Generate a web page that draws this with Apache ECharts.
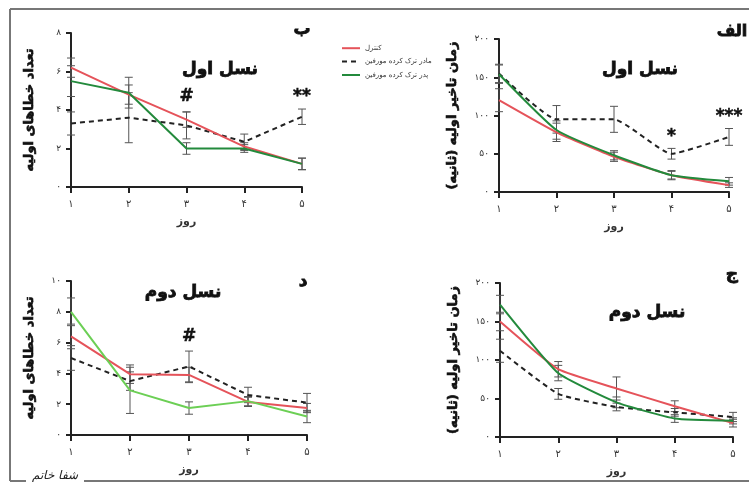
<!DOCTYPE html>
<html>
<head>
<meta charset="utf-8">
<script src="https://cdn.jsdelivr.net/npm/echarts@6/dist/echarts.min.js"></script>
<style>
  html, body { margin: 0; padding: 0; background: #fff; }
  #chart { width: 749px; height: 492px; }
</style>
</head>
<body>
<div id="chart"></div>
<script>
// روزها
const days = ['۱', '۲', '۳', '۴', '۵'];
const names = ['کنترل', 'مادر ترک کرده مورفین', 'پدر ترک کرده مورفین'];

// الف: زمان تاخیر اولیه - نسل اول
const latG1Ctrl = [120, 78, 46, 22, 9];
const latG1Mom = [155, 95, 95, 50, 72];
const latG1Dad = [154, 81, 48, 22, 14];
const latG1CtrlSe = [15, 12, 6, 5, 3];
const latG1MomSe = [12, 18, 17, 7, 11];
const latG1DadSe = [12, 12, 6, 6, 5];

// ب: تعداد خطاهای اولیه - نسل اول
const errG1Ctrl = [6.2, 4.8, 3.5, 2.1, 1.2];
const errG1Mom = [3.3, 3.6, 3.2, 2.35, 3.65];
const errG1Dad = [5.5, 4.9, 2.0, 2.0, 1.2];
const errG1CtrlSe = [0.5, 0.5, 0.4, 0.2, 0.3];
const errG1MomSe = [0.6, 1.3, 0.7, 0.4, 0.4];
const errG1DadSe = [0.8, 0.8, 0.3, 0.2, 0.3];

// ج: زمان تاخیر اولیه - نسل دوم
const latG2Ctrl = [150, 88, 63, 40, 18];
const latG2Mom = [112, 56, 39, 32, 26];
const latG2Dad = [172, 83, 45, 24, 21];
const latG2CtrlSe = [12, 10, 15, 7, 5];
const latG2MomSe = [15, 7, 5, 5, 6];
const latG2DadSe = [12, 10, 7, 5, 4];

// د: تعداد خطاهای اولیه - نسل دوم
const errG2Ctrl = [6.4, 3.95, 3.9, 2.15, 1.75];
const errG2Mom = [5.0, 3.5, 4.45, 2.6, 2.1];
const errG2Dad = [8.0, 2.9, 1.75, 2.2, 1.2];
const errG2CtrlSe = [0.8, 0.6, 0.5, 0.3, 0.3];
const errG2MomSe = [0.8, 0.6, 1.0, 0.5, 0.6];
const errG2DadSe = [0.9, 1.5, 0.4, 0.3, 0.4];

// ستاره‌ها و علامت‌ها
const marksLatG1 = [{ day: 3, y: 73, text: '*' }, { day: 4, y: 98, text: '***' }];
const marksErrG1 = [{ day: 2, y: 4.7, text: '#' }, { day: 4, y: 4.7, text: '**' }];
const marksErrG2 = [{ day: 2, y: 6.4, text: '#' }];

const FONT = 'DejaVu Sans';
const RED = '#e5535a';
const GREEN = '#238a3c';
const LIGHTGREEN = '#6ccf55';

const fa = v => String(v).replace(/\d/g, d => '۰۱۲۳۴۵۶۷۸۹'[d]);

const grids = [
  { left: 499, top: 39, width: 230, height: 153 },   // الف
  { left: 71, top: 33, width: 231, height: 154 },    // ب
  { left: 500, top: 283, width: 233, height: 154 },  // ج
  { left: 71, top: 281, width: 236, height: 154 }    // د
];

const axisLine = { lineStyle: { color: '#222', width: 2 } };

const xAxes = grids.map((g, i) => ({
  type: 'category', gridIndex: i, data: days, boundaryGap: false,
  axisLine: axisLine,
  axisTick: { show: true, length: 6, lineStyle: { color: '#222', width: 2 } },
  axisLabel: { fontFamily: FONT, fontSize: 10, color: '#333', margin: 12 },
  name: 'روز', nameLocation: 'middle', nameGap: 30,
  nameTextStyle: { fontFamily: FONT, fontSize: 11, fontWeight: 'bold', color: '#333' }
}));

function yAxis(i, max, interval, name) {
  return {
    type: 'value', gridIndex: i, min: 0, max: max, interval: interval,
    axisLine: Object.assign({ show: true }, axisLine),
    axisTick: { show: true, length: 5, lineStyle: { color: '#222', width: 2 } },
    splitLine: { show: false },
    axisLabel: { fontFamily: FONT, fontSize: 9, color: '#333', margin: 10, formatter: v => fa(v) },
    name: name, nameLocation: 'middle', nameRotate: 90, nameGap: max > 50 ? 40 : 35,
    nameTextStyle: {
      fontFamily: FONT, fontSize: 13, fontWeight: 'bold', color: '#111',
      textBorderColor: '#111', textBorderWidth: 0.6
    }
  };
}

const yAxes = [
  yAxis(0, 200, 50, 'زمان تاخیر اولیه (ثانیه)'),
  yAxis(1, 8, 2, 'تعداد خطاهای اولیه'),
  yAxis(2, 200, 50, 'زمان تاخیر اولیه (ثانیه)'),
  yAxis(3, 10, 2, 'تعداد خطاهای اولیه')
];

function renderErr(params, api) {
  const x = api.value(0);
  const p1 = api.coord([x, api.value(2)]);
  const p2 = api.coord([x, api.value(1)]);
  const w = 4;
  const st = { stroke: '#555', lineWidth: 1 };
  return {
    type: 'group',
    children: [
      { type: 'line', shape: { x1: p1[0], y1: p1[1], x2: p2[0], y2: p2[1] }, style: st },
      { type: 'line', shape: { x1: p1[0] - w, y1: p1[1], x2: p1[0] + w, y2: p1[1] }, style: st },
      { type: 'line', shape: { x1: p2[0] - w, y1: p2[1], x2: p2[0] + w, y2: p2[1] }, style: st }
    ]
  };
}

function errSeries(i, vals, se) {
  return {
    type: 'custom', xAxisIndex: i, yAxisIndex: i, renderItem: renderErr, z: 1,
    silent: true,
    data: vals.map((v, k) => [k, v - se[k], v + se[k]])
  };
}

function lineSeries(i, name, vals, color, dashed, smooth, marks) {
  const s = {
    type: 'line', name: name, xAxisIndex: i, yAxisIndex: i, data: vals,
    showSymbol: false, smooth: smooth, z: 3,
    lineStyle: { color: color, width: 2, type: dashed ? [5, 4] : 'solid' },
    itemStyle: { color: color }
  };
  if (marks) {
    s.markPoint = {
      symbol: 'circle', symbolSize: 0,
      label: {
        show: true, formatter: p => p.name, fontFamily: FONT, fontSize: 17, fontWeight: 'bold', color: '#111',
        textBorderColor: '#111', textBorderWidth: 0.5
      },
      data: marks.map(m => ({ name: m.text, coord: [m.day, m.y] }))
    };
  }
  return s;
}

function panel(i, ctrl, mom, dad, ctrlSe, momSe, dadSe, dadColor, smooth, marks) {
  return [
    errSeries(i, mom, momSe), errSeries(i, ctrl, ctrlSe), errSeries(i, dad, dadSe),
    lineSeries(i, names[1], mom, '#222', true, smooth, marks),
    lineSeries(i, names[0], ctrl, RED, false, smooth),
    lineSeries(i, names[2], dad, dadColor, false, smooth)
  ];
}

const series = [].concat(
  panel(0, latG1Ctrl, latG1Mom, latG1Dad, latG1CtrlSe, latG1MomSe, latG1DadSe, GREEN, 0.15, marksLatG1),
  panel(1, errG1Ctrl, errG1Mom, errG1Dad, errG1CtrlSe, errG1MomSe, errG1DadSe, GREEN, false, marksErrG1),
  panel(2, latG2Ctrl, latG2Mom, latG2Dad, latG2CtrlSe, latG2MomSe, latG2DadSe, GREEN, 0.15, null),
  panel(3, errG2Ctrl, errG2Mom, errG2Dad, errG2CtrlSe, errG2MomSe, errG2DadSe, LIGHTGREEN, false, marksErrG2)
);

function label(x, y, text, size) {
  return {
    type: 'text', x: x, y: y,
    style: {
      text: text, fontFamily: FONT, fontSize: size, fontWeight: 'bold', fill: '#111',
      stroke: '#111', lineWidth: 0.8, align: 'center', verticalAlign: 'middle'
    }
  };
}

const frame = { stroke: '#777', lineWidth: 2 };

const chart = echarts.init(document.getElementById('chart'));
chart.setOption({
  backgroundColor: '#fff',
  animation: false,
  grid: grids,
  xAxis: xAxes,
  yAxis: yAxes,
  legend: {
    orient: 'vertical', left: 336, top: 39, itemWidth: 18, itemHeight: 8, itemGap: 5,
    data: [
      { name: names[0], itemStyle: { opacity: 0 } },
      { name: names[1], itemStyle: { opacity: 0 } },
      { name: names[2], itemStyle: { opacity: 0 } }
    ],
    textStyle: { fontFamily: FONT, fontSize: 7, color: '#333' }
  },
  graphic: [
    { type: 'line', shape: { x1: 10, y1: 9, x2: 749, y2: 9 }, style: frame },
    { type: 'line', shape: { x1: 10, y1: 9, x2: 10, y2: 481 }, style: frame },
    { type: 'line', shape: { x1: 10, y1: 481, x2: 26, y2: 481 }, style: frame },
    { type: 'line', shape: { x1: 84, y1: 481, x2: 749, y2: 481 }, style: frame },
    {
      type: 'text', x: 55, y: 476,
      style: { text: 'شفا خاتم', fontFamily: 'DejaVu Serif', fontSize: 12, fontStyle: 'italic', fill: '#222', align: 'center', verticalAlign: 'middle' }
    },
    label(732, 32, 'الف', 16),
    label(302, 30, 'ب', 17),
    label(732, 275, 'ج', 17),
    label(303, 282, 'د', 17),
    label(640, 70, 'نسل اول', 17),
    label(220, 70, 'نسل اول', 17),
    label(647, 313, 'نسل دوم', 17),
    label(183, 293, 'نسل دوم', 17)
  ],
  series: series
});
</script>
</body>
</html>
